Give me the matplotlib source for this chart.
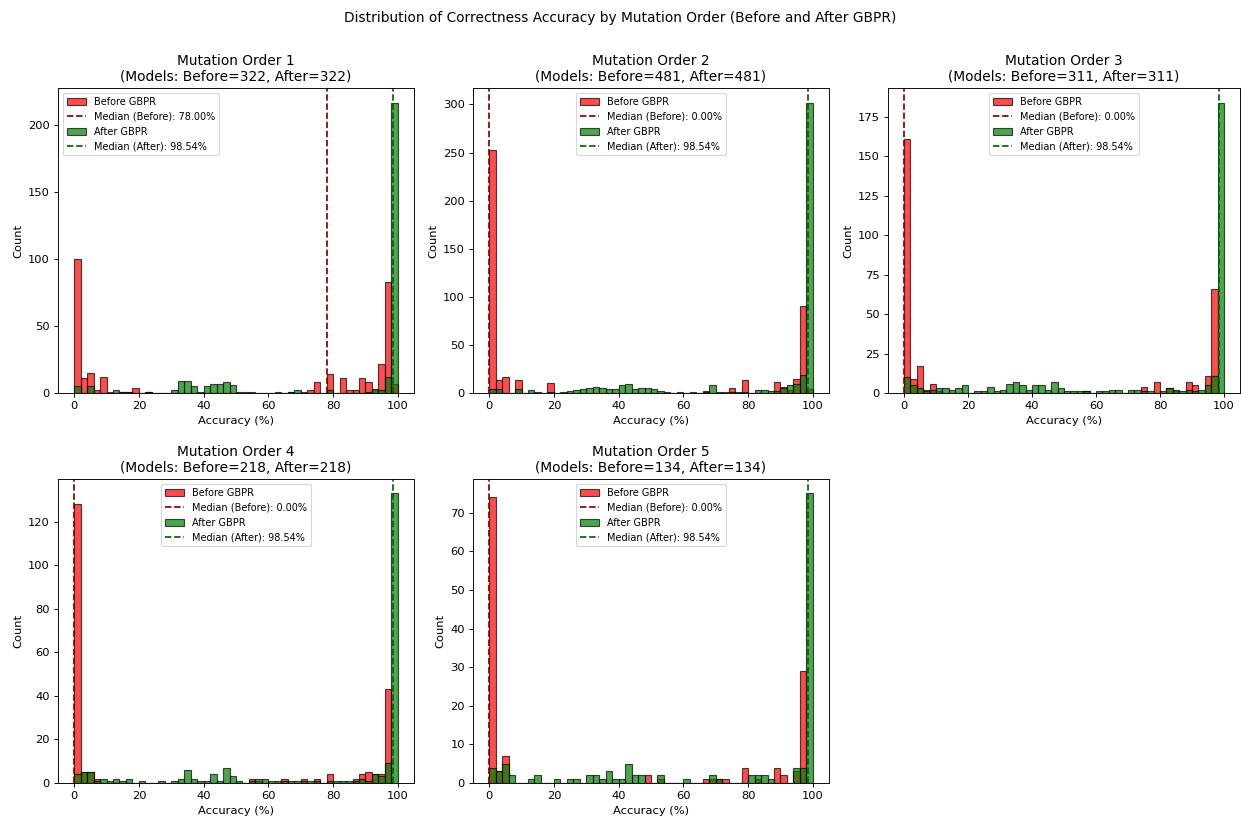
import numpy as np
import matplotlib
matplotlib.use("Agg")
import matplotlib.pyplot as plt

# ---------------- data (counts per 2%-wide accuracy bin, 0..100) ----------------
orders = [1, 2, 3, 4, 5]
models_before = [322, 481, 311, 218, 134]
models_after = [322, 481, 311, 218, 134]
median_before = [78.00, 0.00, 0.00, 0.00, 0.00]
median_after = [98.54, 98.54, 98.54, 98.54, 98.54]

def _c(d):
    a = [0] * 50
    for k, v in d.items():
        a[k] = v
    return a

before_1 = _c({0: 100, 1: 11, 2: 15, 3: 2, 4: 12, 5: 1, 7: 1, 8: 1, 9: 4, 11: 1,
               33: 1, 35: 1, 36: 2, 37: 8, 39: 14, 41: 11, 42: 2, 43: 2, 44: 11,
               45: 8, 46: 2, 47: 22, 48: 83, 49: 7})
after_1 = _c({0: 5, 2: 5, 6: 2, 7: 1, 8: 1, 11: 1, 15: 2, 16: 9, 17: 9, 18: 5, 19: 1,
              20: 5, 21: 7, 22: 7, 23: 8, 24: 6, 25: 1, 26: 1, 27: 1, 31: 1, 33: 1,
              34: 2, 39: 2, 45: 1, 46: 3, 47: 2, 48: 12, 49: 217})

before_2 = _c({0: 253, 1: 13, 2: 17, 4: 13, 9: 10, 31: 1, 33: 2, 37: 5, 39: 14,
               44: 11, 45: 6, 46: 3, 47: 15, 48: 90, 49: 4})
after_2 = _c({0: 4, 1: 4, 4: 4, 6: 3, 7: 1, 9: 1, 11: 1, 12: 2, 13: 3, 14: 4, 15: 5,
              16: 6, 17: 5, 18: 4, 19: 4, 20: 8, 21: 9, 22: 4, 23: 5, 24: 5, 25: 4,
              26: 2, 27: 1, 29: 1, 33: 1, 34: 8, 35: 1, 36: 1, 37: 1, 38: 1, 39: 1,
              41: 3, 42: 3, 43: 2, 44: 2, 45: 5, 46: 8, 47: 9, 48: 19, 49: 302})

before_3 = _c({0: 161, 1: 9, 2: 17, 3: 2, 4: 6, 5: 1, 28: 1, 37: 4, 39: 7, 41: 3,
               42: 1, 44: 7, 45: 5, 47: 11, 48: 66})
after_3 = _c({0: 10, 1: 5, 2: 3, 3: 1, 4: 2, 5: 3, 6: 3, 7: 2, 8: 3, 9: 5, 11: 1,
              12: 1, 13: 4, 14: 1, 15: 2, 16: 6, 17: 7, 18: 5, 19: 2, 20: 5, 21: 5,
              22: 2, 23: 7, 24: 3, 25: 1, 26: 1, 27: 1, 28: 1, 30: 1, 31: 1, 32: 2,
              33: 2, 35: 2, 36: 2, 37: 1, 38: 1, 40: 1, 41: 3, 42: 2, 43: 1, 44: 2,
              45: 1, 46: 2, 47: 5, 48: 11, 49: 184})

before_4 = _c({0: 128, 1: 5, 2: 5, 3: 2, 27: 2, 28: 1, 32: 2, 35: 2, 37: 2, 39: 4,
               43: 2, 44: 4, 45: 5, 46: 4, 47: 4, 48: 43})
after_4 = _c({0: 4, 1: 5, 2: 5, 3: 1, 4: 2, 5: 1, 6: 2, 7: 1, 8: 2, 10: 1, 13: 1,
              15: 1, 16: 2, 17: 6, 18: 2, 19: 1, 20: 1, 21: 4, 22: 1, 23: 7, 24: 3,
              25: 1, 27: 1, 28: 2, 29: 2, 30: 1, 31: 1, 32: 1, 33: 1, 34: 1, 35: 1,
              36: 1, 37: 1, 39: 1, 40: 1, 41: 1, 42: 1, 43: 1, 44: 2, 45: 1, 46: 4,
              47: 3, 48: 9, 49: 133})

before_5 = _c({0: 74, 1: 3, 2: 7, 24: 2, 26: 1, 33: 1, 34: 1, 35: 1, 36: 1, 39: 4,
               41: 1, 44: 4, 45: 2, 47: 3, 48: 29})
after_5 = _c({0: 4, 1: 3, 2: 5, 3: 2, 6: 1, 7: 2, 10: 1, 12: 1, 13: 1, 15: 2, 16: 2,
              17: 1, 18: 3, 19: 1, 20: 1, 21: 5, 22: 2, 23: 2, 26: 2, 30: 1, 34: 2,
              35: 1, 40: 2, 41: 2, 42: 2, 43: 1, 47: 4, 48: 4, 49: 75})

before_counts = [before_1, before_2, before_3, before_4, before_5]
after_counts = [after_1, after_2, after_3, after_4, after_5]

# ---------------- plotting ----------------
edges = np.linspace(0, 100, 51)
centers = (edges[:-1] + edges[1:]) / 2

W, H = 1241, 820
DPI = W / 15.0
fig = plt.figure(figsize=(15.0, H / DPI), dpi=DPI)

col_left = [58, 473, 888]
col_width = [356, 356, 352]
row_top = [88, 479]
row_height = [305, 304]
legend_locs = ["upper left", "upper center", "upper center", "upper center", "upper center"]

for i, order in enumerate(orders):
    r, c = divmod(i, 3)
    ax = fig.add_axes([col_left[c] / W, 1 - (row_top[r] + row_height[r]) / H,
                       col_width[c] / W, row_height[r] / H])
    ax.hist(centers, bins=edges, weights=before_counts[i], color="red", alpha=0.7,
            edgecolor="black", linewidth=1.0, label="Before GBPR")
    ax.axvline(median_before[i], color="darkred", linestyle="--", linewidth=1.5,
               label=f"Median (Before): {median_before[i]:.2f}%")
    ax.hist(centers, bins=edges, weights=after_counts[i], color="green", alpha=0.7,
            edgecolor="black", linewidth=1.0, label="After GBPR")
    ax.axvline(median_after[i], color="darkgreen", linestyle="--", linewidth=1.5,
               label=f"Median (After): {median_after[i]:.2f}%")
    ax.set_title(f"Mutation Order {order}\n(Models: Before={models_before[i]}, After={models_after[i]})",
                 fontsize=12)
    ax.set_xlabel("Accuracy (%)", fontsize=10)
    ax.set_ylabel("Count", fontsize=10)
    ax.tick_params(labelsize=10)
    ax.legend(loc=legend_locs[i], fontsize=8.5)

fig.suptitle("Distribution of Correctness Accuracy by Mutation Order (Before and After GBPR)",
             fontsize=12, y=1 - 18 / H, va="center")

fig.savefig("out.png", dpi=DPI)
